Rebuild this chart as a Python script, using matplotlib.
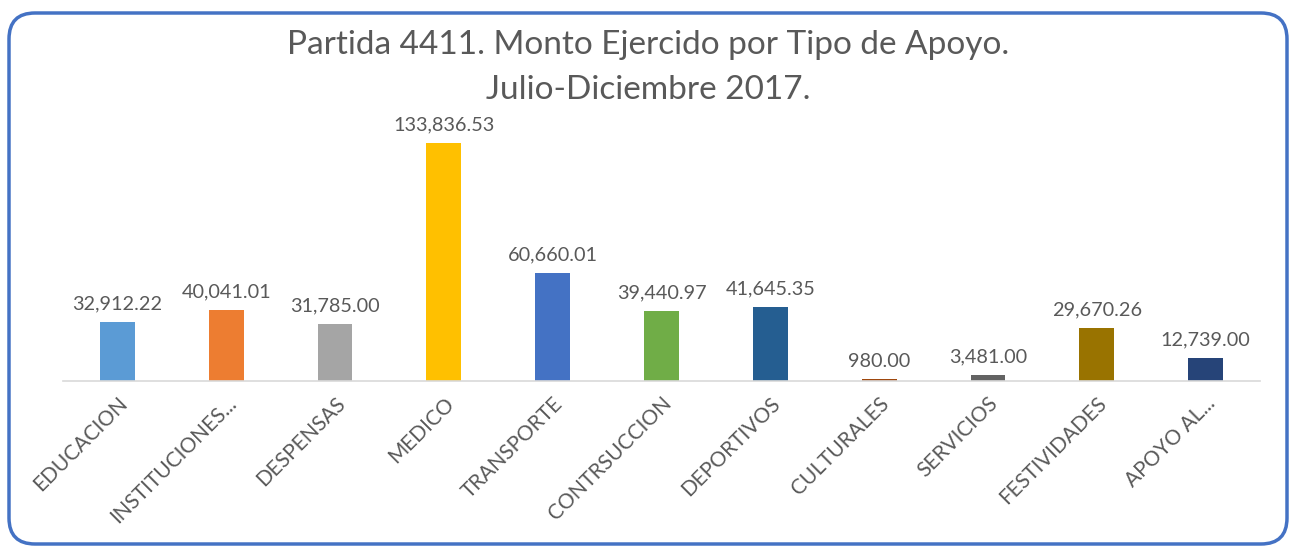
import matplotlib.pyplot as plt
from matplotlib.patches import FancyBboxPatch

# data
categorias = ['EDUCACION', 'INSTITUCIONES...', 'DESPENSAS', 'MEDICO', 'TRANSPORTE',
              'CONTRSUCCION', 'DEPORTIVOS', 'CULTURALES', 'SERVICIOS',
              'FESTIVIDADES', 'APOYO AL...']
montos = [32912.22, 40041.01, 31785.00, 133836.53, 60660.01,
          39440.97, 41645.35, 980.00, 3481.00, 29670.26, 12739.00]
colores = ['#5B9BD5', '#ED7D31', '#A5A5A5', '#FFC000', '#4472C4',
           '#70AD47', '#255E91', '#9E480E', '#636363', '#997300', '#264478']

plt.rcParams['font.family'] = ['Lato', 'DejaVu Sans']
gris = '#595959'

fig = plt.figure(figsize=(12.92, 5.47), dpi=100)

# rounded blue frame, drawn in pixel units
bg = fig.add_axes([0, 0, 1, 1])
bg.set_xlim(0, 1292)
bg.set_ylim(547, 0)
bg.axis('off')
marco = FancyBboxPatch((9, 13), 1278, 531, boxstyle='round,pad=0,rounding_size=26',
                       fc='white', ec='#4472C4', lw=2.5)
bg.add_patch(marco)

ax = fig.add_axes([63 / 1292, 1 - 381 / 547, (1260 - 63) / 1292, 267 / 547])
ax.patch.set_alpha(0)
x = range(len(categorias))
barras = ax.bar(x, montos, width=0.32, color=colores)
ax.set_xlim(-0.5, len(categorias) - 0.5)
ax.set_ylim(0, 150000)

for b, v in zip(barras, montos):
    ax.annotate(f'{v:,.2f}', (b.get_x() + b.get_width() / 2, v),
                xytext=(0, 7), textcoords='offset points',
                ha='center', va='bottom', fontsize=14.3, color=gris)

ax.set_xticks(list(x))
ax.set_xticklabels(categorias, rotation=45, ha='right', va='top',
                   rotation_mode='anchor', fontsize=15, color=gris)
ax.tick_params(axis='x', length=0, pad=9)
ax.set_yticks([])
for s in ['top', 'right', 'left']:
    ax.spines[s].set_visible(False)
ax.spines['bottom'].set_color('#D9D9D9')
ax.spines['bottom'].set_linewidth(1.2)

fig.text(0.5016, 1 - 45 / 547, 'Partida 4411. Monto Ejercido por Tipo de Apoyo.',
         ha='center', va='center', fontsize=24, color=gris)
fig.text(0.5016, 1 - 90 / 547, 'Julio-Diciembre 2017.',
         ha='center', va='center', fontsize=24, color=gris)

fig.savefig('out.png', dpi=100)
